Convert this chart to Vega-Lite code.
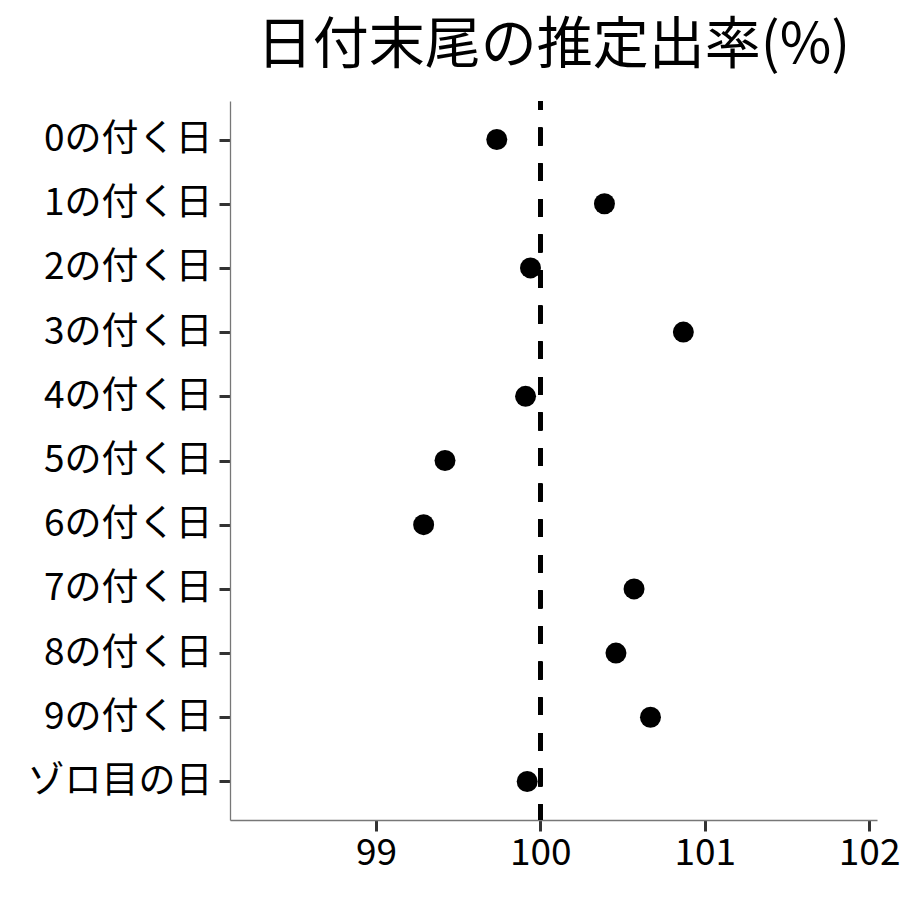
{
  "$schema": "https://vega.github.io/schema/vega-lite/v6.json",
  "width": 647,
  "height": 719,
  "autosize": {"type": "none"},
  "padding": {"left": 230, "top": 101, "right": 23, "bottom": 80},
  "background": "white",
  "config": {
    "view": {"stroke": null},
    "font": "Noto Sans CJK JP"
  },
  "title": {
    "text": "日付末尾の推定出率(%)",
    "font": "Noto Sans CJK JP",
    "fontSize": 56,
    "fontWeight": "normal",
    "color": "black",
    "anchor": "middle",
    "offset": 24
  },
  "data": {
    "values": [
      {"day": "0の付く日", "rate": 99.735},
      {"day": "1の付く日", "rate": 100.39},
      {"day": "2の付く日", "rate": 99.94},
      {"day": "3の付く日", "rate": 100.87},
      {"day": "4の付く日", "rate": 99.91},
      {"day": "5の付く日", "rate": 99.42},
      {"day": "6の付く日", "rate": 99.29},
      {"day": "7の付く日", "rate": 100.57},
      {"day": "8の付く日", "rate": 100.46},
      {"day": "9の付く日", "rate": 100.67},
      {"day": "ゾロ目の日", "rate": 99.92}
    ]
  },
  "layer": [
    {
      "mark": {"type": "rule", "color": "black", "strokeWidth": 4, "strokeDash": [17.7, 17.9], "strokeDashOffset": 8.8},
      "encoding": {"x": {"datum": 100, "type": "quantitative"}}
    },
    {
      "mark": {"type": "circle", "color": "black", "opacity": 1, "size": 440},
      "encoding": {
        "y": {
          "field": "day",
          "type": "nominal",
          "sort": null,
          "scale": {"type": "point", "padding": 0.6},
          "axis": {
            "title": null,
            "domain": true,
            "domainColor": "#777777",
            "domainWidth": 1.3,
            "ticks": true,
            "tickColor": "#333333",
            "tickWidth": 3,
            "tickSize": 11,
            "labelFont": "Noto Sans CJK JP",
            "labelFontSize": 37,
            "labelColor": "black",
            "labelPadding": 7,
            "labelLimit": 400,
            "grid": false
          }
        },
        "x": {
          "field": "rate",
          "type": "quantitative",
          "scale": {"domain": [98.112, 102.048], "nice": false, "zero": false},
          "axis": {
            "title": null,
            "values": [99, 100, 101, 102],
            "format": "d",
            "domain": true,
            "domainColor": "#777777",
            "domainWidth": 1.3,
            "ticks": true,
            "tickColor": "#333333",
            "tickWidth": 3,
            "tickSize": 11,
            "labelFont": "Noto Sans CJK JP",
            "labelFontSize": 37,
            "labelColor": "black",
            "labelPadding": 4,
            "labelFlush": false,
            "grid": false
          }
        }
      }
    }
  ]
}
